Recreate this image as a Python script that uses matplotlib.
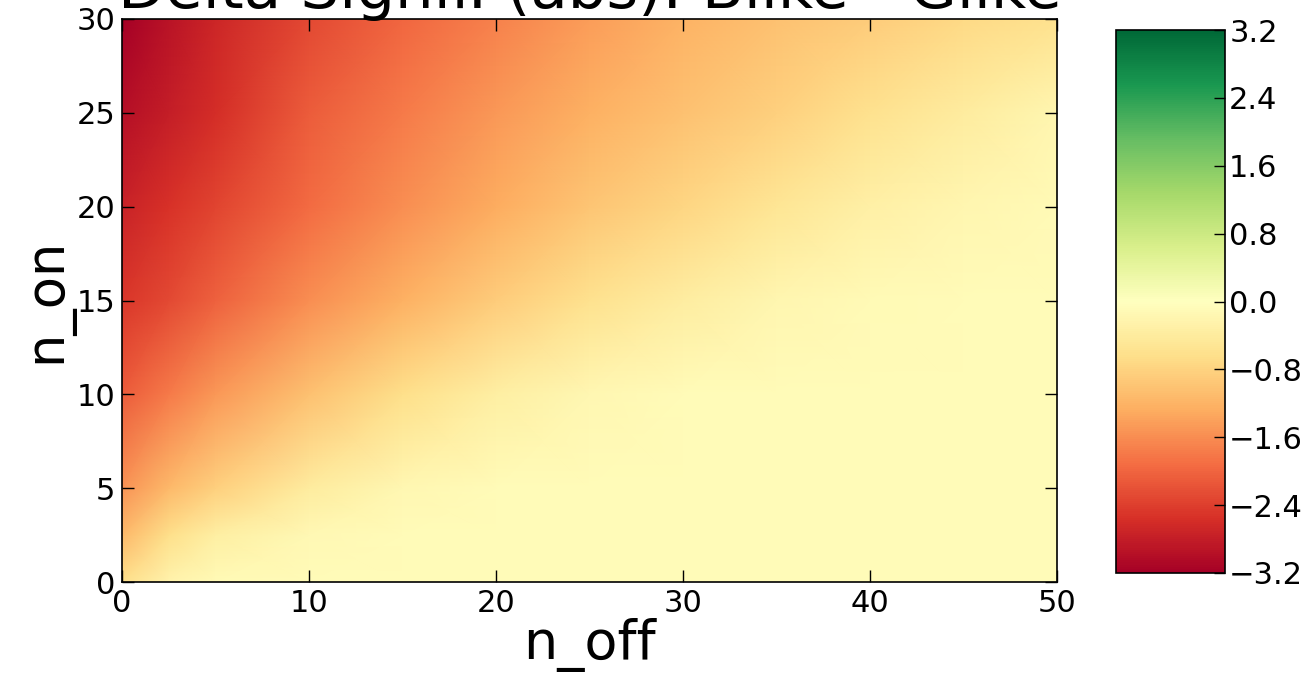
import numpy as np
import matplotlib
matplotlib.use("Agg")
import matplotlib.pyplot as plt
from matplotlib.ticker import FuncFormatter

# Grid coordinates (n_off columns, n_on rows) at which values were read
n_off = [0, 2.5, 5, 10, 15, 20, 25, 30, 35, 40, 45, 50]
n_on = [0, 2.5, 5, 10, 15, 20, 25, 30]

# Delta significance (abs), one list per n_on row
row_0 = [-0.65, -0.25, -0.12, -0.10, -0.10, -0.10, -0.10, -0.10, -0.10, -0.10, -0.10, -0.10]
row_2p5 = [-1.15, -0.65, -0.35, -0.15, -0.10, -0.10, -0.10, -0.10, -0.10, -0.10, -0.10, -0.10]
row_5 = [-1.55, -1.15, -0.85, -0.38, -0.16, -0.10, -0.10, -0.10, -0.10, -0.10, -0.10, -0.10]
row_10 = [-2.10, -1.80, -1.50, -1.05, -0.65, -0.35, -0.17, -0.10, -0.10, -0.10, -0.10, -0.10]
row_15 = [-2.50, -2.30, -2.05, -1.60, -1.25, -0.90, -0.60, -0.36, -0.20, -0.12, -0.10, -0.10]
row_20 = [-2.75, -2.55, -2.35, -1.95, -1.60, -1.28, -1.00, -0.76, -0.52, -0.32, -0.18, -0.12]
row_25 = [-3.00, -2.80, -2.60, -2.10, -1.80, -1.50, -1.25, -1.05, -0.85, -0.60, -0.38, -0.20]
row_30 = [-3.20, -2.95, -2.70, -2.30, -2.00, -1.72, -1.45, -1.22, -1.05, -0.88, -0.72, -0.58]

cbar_ticks = [-3.2, -2.4, -1.6, -0.8, 0.0, 0.8, 1.6, 2.4, 3.2]
title = "Delta Signif. (abs): Blike - Glike"

values = np.array([row_0, row_2p5, row_5, row_10, row_15, row_20, row_25, row_30])

W, H = 1314, 691
fig = plt.figure(figsize=(W / 100, H / 100), dpi=100, facecolor="white")
ax = fig.add_axes([122 / W, 1 - 582 / H, (1057 - 122) / W, (582 - 19) / H])
mesh = ax.pcolormesh(n_off, n_on, values, shading="gouraud", cmap="RdYlGn",
                     vmin=-3.2, vmax=3.2)
ax.set_xlim(0, 50)
ax.set_ylim(0, 30)
ax.set_xticks([0, 10, 20, 30, 40, 50])
ax.set_yticks([0, 5, 10, 15, 20, 25, 30])
ax.tick_params(direction="in", top=True, right=True, length=8.5, width=1,
               labelsize=22, pad=5)
for s in ax.spines.values():
    s.set_linewidth(1.2)
ax.set_xlabel("n_off", fontsize=39, labelpad=0)
ax.set_ylabel("n_on", fontsize=38, labelpad=2)
ax.set_title(title, fontsize=44, pad=8)

cax = fig.add_axes([1116 / W, 1 - 573 / H, (1225 - 1116) / W, (573 - 30) / H])
cb = fig.colorbar(mesh, cax=cax, ticks=cbar_ticks)
cb.ax.yaxis.set_major_formatter(FuncFormatter(lambda v, p: f"{v:.1f}".replace("-", "\u2212")))
cb.ax.tick_params(direction="in", length=8, width=1, labelsize=22, pad=3)
cb.outline.set_linewidth(1.2)

fig.savefig("out.png", dpi=100, facecolor="white")
